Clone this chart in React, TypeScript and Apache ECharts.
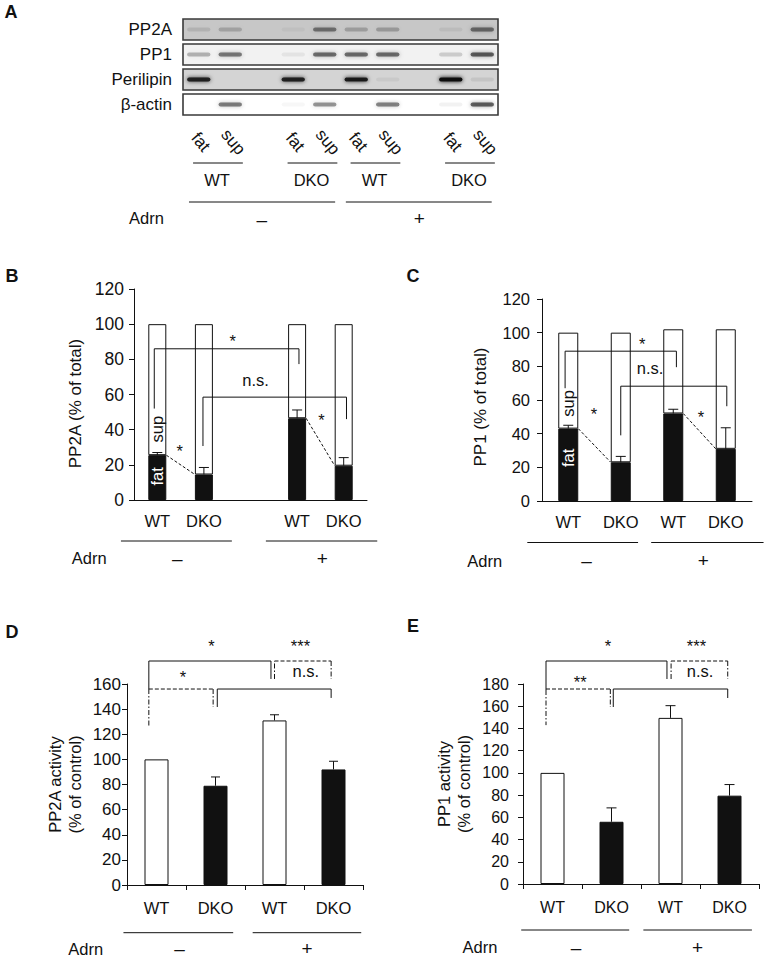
import React, { useEffect, useRef } from 'react';
import * as echarts from 'echarts';

const FONT = '"Liberation Sans", Arial, Helvetica, sans-serif';
const INK = '#111';

// ---------- Panel A: western blot ----------
const blotRows = ['PP2A', 'PP1', 'Perilipin', 'β-actin'];
const blotSlots = ['fat', 'sup', '', 'fat', 'sup', 'fat', 'sup', '', 'fat', 'sup'];
const blotLaneSlots = [0, 1, 3, 4, 5, 6, 8, 9];
const blotLaneNames = ['fat', 'sup', 'fat', 'sup', 'fat', 'sup', 'fat', 'sup'];
const blotStripShade = [0.22, 0.05, 0.17, 0.0];
const bandsPP2A = [0.1, 0.18, 0.04, 0.42, 0.2, 0.22, 0.06, 0.5];
const bandsPP1 = [0.25, 0.5, 0.06, 0.55, 0.55, 0.55, 0.15, 0.62];
const bandsPerilipin = [0.85, 0, 0.85, 0, 0.9, 0.05, 1.0, 0.07];
const bandsActin = [0, 0.5, 0.03, 0.38, 0, 0.48, 0.05, 0.62];
const blotGenotypes = ['WT', 'DKO', 'WT', 'DKO'];
const adrnStates = ['–', '+'];

// ---------- Panel B: PP2A distribution ----------
const catsB = ['WT', 'DKO', '', 'WT', 'DKO'];
const pp2aFat = [25.5, 14.5, null, 46.5, 19.5];
const pp2aFatErr = [1.5, 4, null, 4.7, 4.6];
const pp2aTotal = [100, 100, null, 100, 100];

// ---------- Panel C: PP1 distribution ----------
const catsC = ['WT', 'DKO', 'WT', 'DKO'];
const pp1Fat = [43, 23, 52, 31];
const pp1FatErr = [2, 3.5, 2.5, 12.5];
const pp1Total = [100, 100, 102, 102];

// ---------- Panel D: PP2A activity ----------
const catsD = ['WT', 'DKO', 'WT', 'DKO'];
const pp2aActivity = [100, 79, 131, 92];
const pp2aActivityErr = [0, 7, 4.5, 6.5];

// ---------- Panel E: PP1 activity ----------
const catsE = ['WT', 'DKO', 'WT', 'DKO'];
const pp1Activity = [100, 56, 149.5, 79.5];
const pp1ActivityErr = [0, 12.5, 11, 10];

function errorBarRenderer(capHalf: number) {
  return (_params: any, api: any) => {
    const e = api.value(2);
    if (!e) return null;
    const c = api.value(0);
    const v = api.value(1);
    const a = api.coord([c, v]);
    const b = api.coord([c, v + e]);
    return {
      type: 'group',
      children: [
        { type: 'line', shape: { x1: a[0], y1: a[1], x2: b[0], y2: b[1] }, style: { stroke: INK, lineWidth: 1 } },
        { type: 'line', shape: { x1: b[0] - capHalf, y1: b[1], x2: b[0] + capHalf, y2: b[1] }, style: { stroke: INK, lineWidth: 1 } },
      ],
    };
  };
}

const valueAxis = (g: number, max: number, o: any) => ({
  gridIndex: g,
  type: 'value',
  min: 0,
  max,
  interval: 20,
  axisLine: { show: true, lineStyle: { color: INK, width: 1 } },
  axisTick: { show: true, length: 5, lineStyle: { color: INK } },
  splitLine: { show: false },
  axisLabel: { fontSize: o.size, color: INK, margin: o.margin, fontFamily: FONT },
  name: o.name,
  nameLocation: 'middle',
  nameRotate: 90,
  nameGap: o.gap,
  nameTextStyle: { fontSize: o.nameSize || 16.5, color: INK, fontFamily: FONT, lineHeight: 20, padding: o.pad || 0 },
});

const catAxis = (g: number, data: string[], o: any) => ({
  gridIndex: g,
  type: 'category',
  data,
  axisLine: { show: true, lineStyle: { color: INK, width: 1 } },
  axisTick: { show: o.ticks, length: 5, interval: 0, alignWithLabel: false, lineStyle: { color: INK } },
  axisLabel: { fontSize: o.size, color: INK, margin: o.margin, fontFamily: FONT, interval: 0 },
  splitLine: { show: false },
});

function buildOption(): any {
  const bandData: any[] = [];
  [bandsPP2A, bandsPP1, bandsPerilipin, bandsActin].forEach((row, r) => {
    row.forEach((a, l) => bandData.push([blotLaneSlots[l], r, a]));
  });
  const dash = (v: any) => (v == null ? '-' : v);
  const fill = (cats: string[]) => cats.map((c) => (c === 'WT' ? '#fff' : INK));

  return {
    animation: false,
    backgroundColor: '#fff',
    textStyle: { fontFamily: FONT },
    grid: [
      { left: 183, top: 17, width: 315, height: 100 },
      { left: 134, top: 289, width: 233, height: 211 },
      { left: 542, top: 299, width: 210, height: 202 },
      { left: 127, top: 684, width: 236, height: 201 },
      { left: 523, top: 684, width: 236, height: 200 },
    ],
    xAxis: [
      { gridIndex: 0, type: 'category', data: blotSlots, show: false },
      catAxis(1, catsB, { ticks: false, size: 16.5, margin: 12 }),
      catAxis(2, catsC, { ticks: false, size: 16.5, margin: 12 }),
      catAxis(3, catsD, { ticks: true, size: 16.5, margin: 14 }),
      catAxis(4, catsE, { ticks: true, size: 16, margin: 15 }),
    ],
    yAxis: [
      {
        gridIndex: 0,
        type: 'category',
        data: blotRows,
        inverse: true,
        axisLine: { show: false },
        axisTick: { show: false },
        splitLine: { show: false },
        axisLabel: { fontSize: 17, color: INK, margin: 11, fontFamily: FONT },
      },
      valueAxis(1, 120, { size: 17.5, margin: 10, name: 'PP2A (% of total)', gap: 49, nameSize: 17, pad: [0, 18, 0, 0] }),
      valueAxis(2, 120, { size: 16.5, margin: 12, name: 'PP1 (% of total)', gap: 52, nameSize: 17, pad: [0, 14, 0, 0] }),
      valueAxis(3, 160, { size: 17, margin: 6, name: 'PP2A activity\n(% of control)', gap: 42 }),
      valueAxis(4, 180, { size: 16, margin: 14, name: 'PP1 activity\n(% of control)', gap: 49 }),
    ],
    series: [
      // Panel A strips
      {
        type: 'custom',
        xAxisIndex: 0,
        yAxisIndex: 0,
        data: blotRows.map((_, i) => [0, i, blotStripShade[i]]),
        renderItem: (params: any, api: any) => {
          const cs = params.coordSys;
          const y = api.coord([0, api.value(1)])[1];
          const h = api.size([0, 1])[1] * 0.84;
          const v = Math.round(255 * (1 - api.value(2)));
          return {
            type: 'rect',
            shape: { x: cs.x, y: y - h / 2, width: cs.width, height: h },
            style: { fill: `rgb(${v},${v},${v})`, stroke: '#3a3a3a', lineWidth: 1.6 },
          };
        },
        z: 1,
      },
      // Panel A bands
      {
        type: 'custom',
        xAxisIndex: 0,
        yAxisIndex: 0,
        data: bandData,
        renderItem: (_params: any, api: any) => {
          const a = api.value(2);
          if (!(a > 0)) return null;
          const p = api.coord([api.value(0), api.value(1)]);
          const w = api.size([1, 0])[0] * 0.74;
          const col = `rgba(15,15,15,${a})`;
          return {
            type: 'rect',
            shape: { x: p[0] - w / 2, y: p[1] - 2, width: w, height: 4, r: 2 },
            style: { fill: col, shadowBlur: 4, shadowColor: col },
          };
        },
        z: 2,
      },
      // Panel B
      {
        type: 'bar', xAxisIndex: 1, yAxisIndex: 1, stack: 'B', barWidth: 18,
        data: pp2aFat.map(dash),
        itemStyle: { color: INK, borderColor: INK, borderWidth: 1 },
      },
      {
        type: 'bar', xAxisIndex: 1, yAxisIndex: 1, stack: 'B', barWidth: 18,
        data: pp2aTotal.map((t, i) => (t == null ? '-' : t - (pp2aFat[i] as number))),
        itemStyle: { color: '#fff', borderColor: INK, borderWidth: 1 },
      },
      {
        type: 'custom', xAxisIndex: 1, yAxisIndex: 1, z: 5,
        data: pp2aFat.map((v, i) => [i, v, pp2aFatErr[i]]).filter((d) => d[1] != null),
        renderItem: errorBarRenderer(5),
      },
      // Panel C
      {
        type: 'bar', xAxisIndex: 2, yAxisIndex: 2, stack: 'C', barWidth: 20,
        data: pp1Fat,
        itemStyle: { color: INK, borderColor: INK, borderWidth: 1 },
      },
      {
        type: 'bar', xAxisIndex: 2, yAxisIndex: 2, stack: 'C', barWidth: 20,
        data: pp1Total.map((t, i) => t - pp1Fat[i]),
        itemStyle: { color: '#fff', borderColor: INK, borderWidth: 1 },
      },
      {
        type: 'custom', xAxisIndex: 2, yAxisIndex: 2, z: 5,
        data: pp1Fat.map((v, i) => [i, v, pp1FatErr[i]]),
        renderItem: errorBarRenderer(5),
      },
      // Panel D
      {
        type: 'bar', xAxisIndex: 3, yAxisIndex: 3, barWidth: 24,
        data: pp2aActivity.map((v, i) => ({ value: v, itemStyle: { color: fill(catsD)[i] } })),
        itemStyle: { borderColor: INK, borderWidth: 1 },
      },
      {
        type: 'custom', xAxisIndex: 3, yAxisIndex: 3, z: 5,
        data: pp2aActivity.map((v, i) => [i, v, pp2aActivityErr[i]]),
        renderItem: errorBarRenderer(4.5),
      },
      // Panel E
      {
        type: 'bar', xAxisIndex: 4, yAxisIndex: 4, barWidth: 24,
        data: pp1Activity.map((v, i) => ({ value: v, itemStyle: { color: fill(catsE)[i] } })),
        itemStyle: { borderColor: INK, borderWidth: 1 },
      },
      {
        type: 'custom', xAxisIndex: 4, yAxisIndex: 4, z: 5,
        data: pp1Activity.map((v, i) => [i, v, pp1ActivityErr[i]]),
        renderItem: errorBarRenderer(5),
      },
    ],
  };
}

function buildGraphics(chart: any): any[] {
  const els: any[] = [];
  const P = (g: number, c: number, v: number): number[] => {
    const a = chart.convertToPixel({ gridIndex: g }, [0, v]);
    const b = chart.convertToPixel({ gridIndex: g }, [1, v]);
    return [a[0] + c * (b[0] - a[0]), a[1]];
  };
  const X = (g: number, c: number) => P(g, c, 0)[0];
  const poly = (pts: number[][], dash?: number[]) =>
    els.push({
      type: 'polyline',
      shape: { points: pts },
      style: { stroke: INK, lineWidth: 1, fill: null, lineDash: dash || null },
      z: 20,
    });
  const txt = (x: number, y: number, s: string, o: any = {}, rotation = 0) =>
    els.push({
      type: 'text',
      x,
      y,
      rotation,
      style: {
        text: s,
        fontSize: 16.5,
        fontFamily: FONT,
        fill: INK,
        align: 'center',
        verticalAlign: 'middle',
        ...o,
      },
      z: 21,
    });
  const DASH = [4, 2];
  const DASHDOT = [5, 2, 1.5, 2];
  const DOT = [3, 2];
  const SIGN = { fontSize: 19, lineHeight: 14 };
  const star = (g: number, c: number, v: number, s: string) => {
    const p = P(g, c, v);
    txt(p[0], p[1] + 4, s);
  };
  const ns = (g: number, c: number, v: number) => {
    const p = P(g, c, v);
    txt(p[0], p[1] - 1.5, 'n.s.');
  };
  const seg = (g: number, pts: number[][], dash?: number[]) => poly(pts.map(([c, v]) => P(g, c, v)), dash);

  // panel letters
  const letter = (x: number, y: number, s: string) => txt(x, y, s, { fontSize: 18, fontWeight: 'bold' });
  letter(11, 12, 'A');
  letter(12, 276, 'B');
  letter(413, 276, 'C');
  letter(12, 632, 'D');
  letter(413, 626, 'E');

  // ---- Panel A decorations ----
  const blotBottom = P(0, 0, 3)[1] + 12.5;
  blotLaneSlots.forEach((s, i) => {
    txt(X(0, s) + (blotLaneNames[i] === 'sup' ? 3 : 2), blotBottom + 25, blotLaneNames[i], { fontSize: 17 }, -50 * Math.PI / 180);
  });
  const pairs = [[0, 1], [3, 4], [5, 6], [8, 9]];
  pairs.forEach(([a, b], i) => {
    poly([[X(0, a - 0.18), blotBottom + 46], [X(0, b + 0.4), blotBottom + 46]]);
    txt(X(0, (a + b) / 2 + 0.08), blotBottom + 63, blotGenotypes[i]);
  });
  poly([[X(0, -0.31), blotBottom + 85], [X(0, 4.33), blotBottom + 85]]);
  poly([[X(0, 4.67), blotBottom + 85], [X(0, 9.3), blotBottom + 85]]);
  txt(X(0, -1.66), blotBottom + 101, 'Adrn');
  txt(X(0, 2.0), blotBottom + 102, adrnStates[0], SIGN);
  txt(X(0, 7.0), blotBottom + 101, adrnStates[1], SIGN);

  // ---- shared: group lines & Adrn row under an x axis ----
  const groupRow = (g: number, l1: number[], l2: number[], lineDy: number, adrn: number, minus: number, plus: number, labDy: number) => {
    const y0 = P(g, 0, 0)[1];
    poly([[X(g, l1[0]), y0 + lineDy], [X(g, l1[1]), y0 + lineDy]]);
    poly([[X(g, l2[0]), y0 + lineDy], [X(g, l2[1]), y0 + lineDy]]);
    txt(X(g, adrn), y0 + labDy, 'Adrn');
    txt(X(g, minus), y0 + labDy, adrnStates[0], SIGN);
    txt(X(g, plus), y0 + labDy, adrnStates[1], SIGN);
  };

  // ---- Panel B ----
  groupRow(1, [-0.78, 1.6], [2.33, 4.72], 41, -1.46, 0.43, 3.54, 58);
  seg(1, [[-0.065, 52], [-0.065, 86], [3.04, 86], [3.04, 77.3]]);
  seg(1, [[0.98, 30.7], [0.98, 58.5], [4.06, 58.5], [4.06, 46]]);
  star(1, 1.62, 92.6, '*');
  ns(1, 2.11, 67.6);
  star(1, 0.48, 30, '*');
  star(1, 3.52, 47.7, '*');
  {
    const hw = 9;
    const a = P(1, 0, pp2aFat[0] as number), b = P(1, 1, pp2aFat[1] as number);
    poly([[a[0] + hw, a[1]], [b[0] - hw, b[1]]], DOT);
    const c = P(1, 3, pp2aFat[3] as number), d = P(1, 4, pp2aFat[4] as number);
    poly([[c[0] + hw, c[1]], [d[0] - hw, d[1]]], DOT);
    const s = P(1, 0, 40.3), f = P(1, 0, 13.4);
    txt(s[0], s[1], 'sup', {}, Math.PI / 2);
    txt(f[0], f[1], 'fat', { fill: '#fff' }, Math.PI / 2);
  }

  // ---- Panel C ----
  groupRow(2, [-0.78, 1.33], [1.58, 3.72], 41.5, -1.59, 0.35, 2.57, 59.5);
  seg(2, [[-0.06, 67], [-0.06, 89], [2.06, 89], [2.06, 79.5]]);
  seg(2, [[1.0, 39], [1.0, 68.2], [3.02, 68.2], [3.02, 56.3]]);
  star(2, 1.41, 95.5, '*');
  ns(2, 1.56, 78.3);
  star(2, 0.49, 53.9, '*');
  star(2, 2.53, 52, '*');
  {
    const hw = 10;
    const a = P(2, 0, pp1Fat[0]), b = P(2, 1, pp1Fat[1]);
    poly([[a[0] + hw, a[1]], [b[0] - hw, b[1]]], DOT);
    const c = P(2, 2, pp1Fat[2]), d = P(2, 3, pp1Fat[3]);
    poly([[c[0] + hw, c[1]], [d[0] - hw, d[1]]], DOT);
    const s = P(2, 0, 58), f = P(2, 0, 25.6);
    txt(s[0], s[1], 'sup', {}, Math.PI / 2);
    txt(f[0], f[1], 'fat', { fill: '#fff' }, Math.PI / 2);
  }

  // ---- Panel D ----
  groupRow(3, [-0.56, 1.3], [1.63, 3.47], 47.7, -1.2, 0.39, 2.55, 63.5);
  seg(3, [[-0.13, 156], [-0.13, 178.3], [1.94, 178.3], [1.94, 164]]);
  seg(3, [[-0.13, 156], [-0.13, 126.6]], DASHDOT);
  seg(3, [[2.0, 164], [2.0, 178.3]], DASHDOT);
  seg(3, [[2.0, 178.3], [2.96, 178.3]], DASH);
  seg(3, [[2.96, 178.3], [2.96, 164]], DASHDOT);
  seg(3, [[-0.13, 156], [0.96, 156]], DASH);
  seg(3, [[0.96, 156], [0.96, 141.7]], DASHDOT);
  seg(3, [[1.03, 141.7], [1.03, 156], [2.96, 156], [2.96, 148.9]]);
  star(3, 0.93, 193.5, '*');
  star(3, 2.44, 193.5, '***');
  ns(3, 2.53, 168.8);
  star(3, 0.45, 168.8, '*');

  // ---- Panel E ----
  groupRow(4, [-0.53, 1.3], [1.54, 3.38], 46, -1.23, 0.4, 2.46, 63);
  seg(4, [[-0.11, 174.6], [-0.11, 200.7], [1.94, 200.7], [1.94, 184.5]]);
  seg(4, [[-0.11, 174.6], [-0.11, 143]], DASHDOT);
  seg(4, [[2.01, 184.5], [2.01, 200.7]], DASHDOT);
  seg(4, [[2.01, 200.7], [2.97, 200.7]], DASH);
  seg(4, [[2.97, 200.7], [2.97, 184.5]], DASHDOT);
  seg(4, [[-0.11, 175.5], [0.98, 175.5]], DASH);
  seg(4, [[0.98, 175.5], [0.98, 159.3]], DASHDOT);
  seg(4, [[1.03, 159.3], [1.03, 175.5], [2.97, 175.5], [2.97, 167.4]]);
  star(4, 0.94, 217.8, '*');
  star(4, 2.44, 217.8, '***');
  ns(4, 2.5, 190);
  star(4, 0.47, 185.4, '**');

  return els;
}

export default function App() {
  const ref = useRef<HTMLDivElement>(null);
  useEffect(() => {
    if (!ref.current) return;
    const chart = echarts.init(ref.current, null, { renderer: 'svg' });
    chart.setOption(buildOption());
    chart.setOption({ graphic: { elements: buildGraphics(chart) } });
    return () => chart.dispose();
  }, []);
  return (
    <div
      ref={ref}
      style={{ position: 'absolute', left: 0, top: 0, width: 768, height: 960, background: '#fff' }}
    />
  );
}
